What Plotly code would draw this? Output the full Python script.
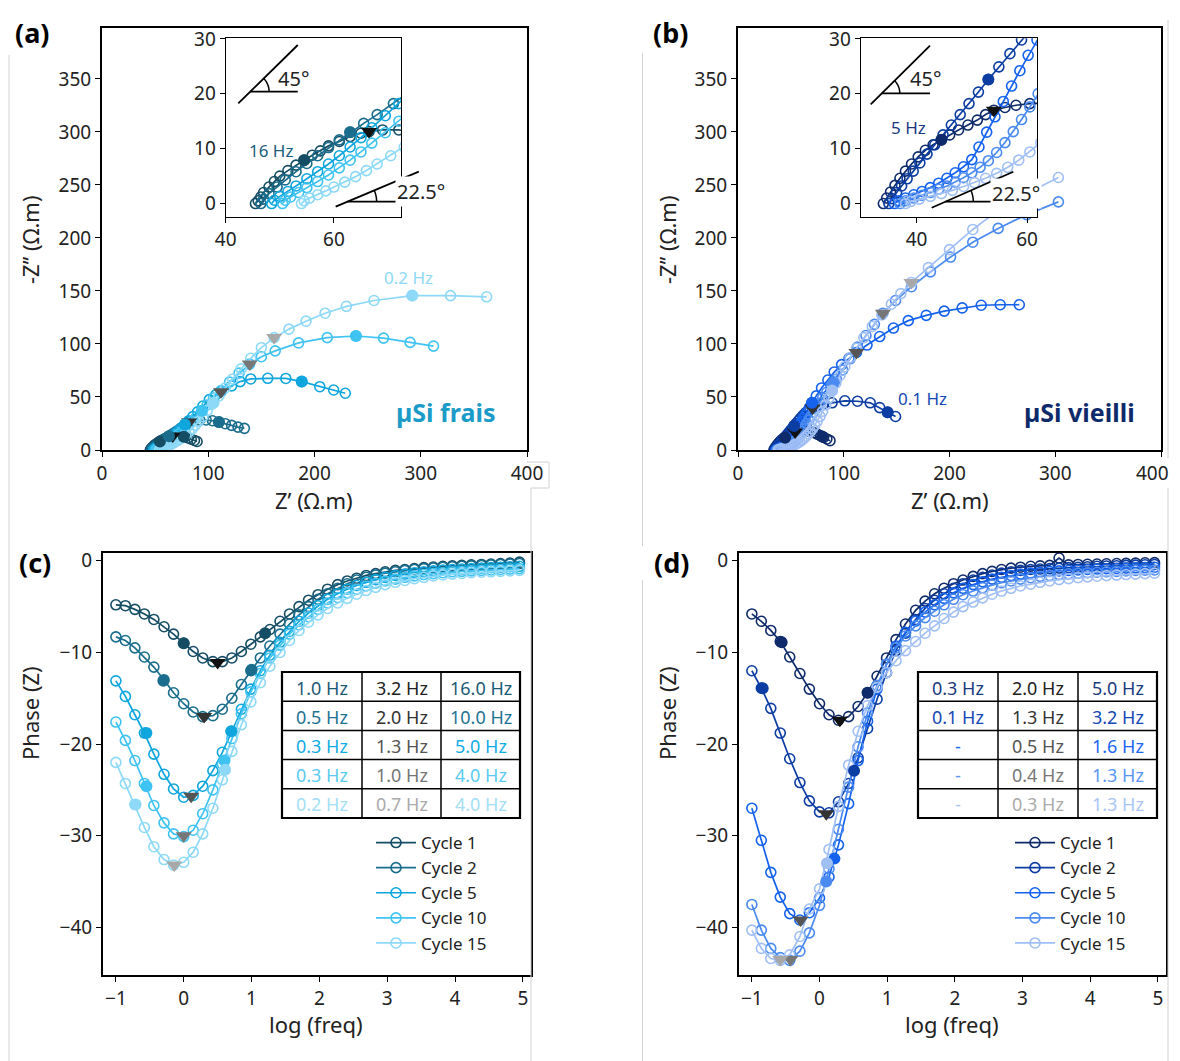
import math
import plotly.graph_objects as go

W, H = 1180, 1061
OFF = 8  # the page body adds an 8 px margin around the figure
FONT = 'Noto Sans'

# ---------------- data ----------------
cycles = ['Cycle 1', 'Cycle 2', 'Cycle 5', 'Cycle 10', 'Cycle 15']
colors_frais = ['#154D65', '#1A6D8D', '#0FA6DE', '#3FC3F2', '#8DD9F7']
colors_vieilli = ['#0F2B6B', '#0C3DA3', '#1462EE', '#4B8BF1', '#A0BFF5']
tri_grays = ['#111111', '#333333', '#555555', '#777777', '#A8A8A8']

# Nyquist, µSi frais (panel a)
zre_frais_c1 = [45.5, 46, 46.5, 47, 48, 49, 50, 51.5, 53, 54.5, 56, 57.5, 59, 61, 63, 65, 66.5, 69, 72, 75, 78, 81, 84, 87, 89.5]
zim_frais_c1 = [0, 0.5, 1.2, 2, 3, 4, 5, 6, 7, 7.9, 8.8, 9.6, 10.5, 11.3, 12.2, 12.8, 13.1, 13.4, 13.4, 13, 12.3, 11.3, 10.2, 9, 8]
zre_frais_c2 = [46.5, 47, 48, 49.5, 51, 53, 55, 57, 59, 61, 63, 65.5, 68, 71, 74, 77.5, 82, 86, 92, 98, 104, 110, 116, 122, 128, 134]
zim_frais_c2 = [0, 0.8, 1.8, 3, 4.3, 5.8, 7.3, 8.7, 10.2, 11.6, 13, 14.6, 16.2, 18.2, 20.4, 22.8, 26.5, 27.6, 28.3, 28.3, 27.6, 26.3, 24.8, 23.2, 21.6, 20.4]
zre_frais_c5 = [48.5, 49, 50, 51.5, 53, 55, 57, 59, 61, 63, 65, 67, 69.5, 72, 75, 78, 81.5, 85.5, 90, 95, 101, 107, 112, 122, 130, 140, 156, 173, 188, 205, 218, 229]
zim_frais_c5 = [0, 0.6, 1.3, 2.2, 3.2, 4.5, 5.8, 7.2, 8.7, 10.3, 12, 13.8, 16, 18.2, 21, 24, 27.5, 31.5, 36, 41.5, 47.5, 52, 55, 60.5, 64.5, 67, 67.6, 67.5, 64.5, 59.7, 56.6, 53.5]
zre_frais_c10 = [50.5, 51, 52, 53.5, 55, 57, 59, 61, 63, 65, 67, 69.5, 72, 75, 78, 81.5, 85, 89, 94, 99, 105, 112, 120, 129, 139, 150, 163, 185, 212, 239, 265, 290, 312]
zim_frais_c10 = [0, 0.6, 1.2, 2, 2.9, 4, 5.2, 6.5, 7.9, 9.4, 11, 12.9, 15, 17.5, 20.3, 23.5, 27, 31.5, 37, 42.5, 49, 56, 64, 72.5, 81, 88, 93.5, 101, 106, 107.5, 105.5, 101.5, 98]
zre_frais_c15 = [54, 54.5, 55.5, 57, 58.5, 60, 62, 64, 66, 68, 70.5, 73, 76, 79, 82, 85, 88, 91, 95, 99, 104, 110, 116, 123, 131, 140, 150, 162, 176, 192, 210, 230, 256, 292, 328, 362]
zim_frais_c15 = [0, 0.5, 1, 1.6, 2.3, 3, 3.9, 4.9, 6, 7.2, 8.7, 10.3, 12.3, 14.6, 17.2, 20.2, 23.5, 27, 31.5, 37, 43.5, 51, 58.5, 67, 76.5, 86.5, 96.5, 106, 114, 121.5, 129, 135.5, 141, 145.6, 145.6, 144.5]

# Nyquist, µSi vieilli (panel b)
zre_vieilli_c1 = [34, 34.6, 35.3, 36.1, 37, 38, 39.1, 40.3, 41.6, 43, 44.5, 46, 47.6, 49.3, 51, 52.5, 54, 56, 58, 60.5, 63, 66, 69, 72, 75, 78, 81, 84, 87]
zim_vieilli_c1 = [0, 1, 2.1, 3.3, 4.6, 5.9, 7.2, 8.5, 9.7, 10.7, 11.6, 12.5, 13.4, 14.3, 15.2, 16.2, 17, 17.5, 17.9, 18.2, 18.3, 18, 17.3, 16.3, 15, 13.5, 12, 10.4, 8.8]
zre_vieilli_c2 = [35, 35.6, 36.4, 37.3, 38.3, 39.4, 40.6, 41.9, 43.3, 44.8, 46.3, 47.9, 49.5, 51.2, 53, 54.9, 56.9, 59, 61.3, 63.8, 66.8, 70.5, 75, 81, 89, 101, 113, 125, 134, 141.5, 149]
zim_vieilli_c2 = [0, 0.9, 2, 3.2, 4.5, 5.9, 7.4, 9, 10.7, 12.5, 14.3, 16.2, 18.2, 20.3, 22.6, 24.9, 27.3, 29.8, 32.4, 35.1, 37.8, 39.7, 42, 43.8, 44.5, 46.4, 46, 44.5, 40, 35.5, 31.6]
zre_vieilli_c5 = [36, 36.8, 38, 39.5, 41, 42.5, 44, 45.5, 47, 48.5, 50, 51.3, 52.7, 54.2, 55.7, 57.2, 58.7, 60.2, 61.8, 63.5, 65.5, 67.7, 70, 74, 79, 85, 91, 98, 105, 112, 122, 134, 147, 161, 178, 195, 212, 230, 248, 266]
zim_vieilli_c5 = [0, 0.5, 1, 1.6, 2.2, 2.9, 3.7, 4.6, 5.6, 6.7, 8, 10.3, 13, 15.8, 18.6, 21.4, 24.2, 27, 29.8, 32.8, 36.3, 40.3, 44.6, 51, 58.5, 66, 73.5, 80.5, 86.5, 92, 99, 107, 115, 122, 127, 131, 134, 136.5, 137, 137]
zre_vieilli_c10 = [37, 38, 39.5, 41, 42.5, 44, 45.5, 47, 48.5, 50, 51.5, 53, 54.5, 56, 57.5, 59, 60.5, 62, 63.5, 65, 67, 69, 71.5, 74, 77, 80, 84, 88, 93, 99, 106, 113, 121, 129, 137, 149, 164, 182, 201, 222, 246, 273, 303]
zim_vieilli_c10 = [0, 0.5, 1, 1.5, 2, 2.6, 3.2, 3.9, 4.7, 5.6, 6.6, 7.8, 9.3, 11.1, 13.1, 15.3, 17.6, 20, 22.5, 25, 28.3, 31.6, 35.6, 39.6, 44.3, 49, 54.5, 60, 67, 75.5, 86, 97, 108, 118.5, 129, 141, 154, 168, 182, 196, 209, 222, 234]
zre_vieilli_c15 = [38, 39, 40.5, 42.5, 44.5, 46.5, 48.5, 50.5, 52.5, 54.5, 56.5, 58.5, 60.5, 62.5, 64.5, 66.5, 68.5, 70.5, 72.5, 75, 77.5, 80, 83, 86, 89, 92.5, 96.5, 101, 106, 112, 119, 127, 136, 145, 154, 164, 180, 200, 222, 246, 273, 303]
zim_vieilli_c15 = [0, 0.4, 0.8, 1.3, 1.8, 2.4, 3.1, 3.8, 4.6, 5.5, 6.6, 7.9, 9.4, 11.1, 13, 15.1, 17.5, 20.2, 23.2, 27.2, 31.7, 36.5, 42.5, 49, 56, 63, 70.5, 78.5, 87, 96, 106, 116.5, 127.5, 137.5, 147.5, 158, 172, 189, 208, 226, 242, 257]

# marked frequencies on the Nyquist plots (table columns: low freq / phase minimum / high freq)
nyq_frais_lo_x = [77, 110, 188, 239, 292]
nyq_frais_lo_y = [12.5, 26.3, 64.5, 107.5, 145.6]
nyq_frais_min_x = [66.5, 82, 112, 139, 162]
nyq_frais_min_y = [13.1, 26.5, 55, 81, 106]
nyq_frais_hi_x = [54.5, 63, 78, 94, 105]
nyq_frais_hi_y = [7.9, 13, 24, 37, 44.5]

nyq_vieilli_lo_x = [79.5, 141.5, None, None, None]
nyq_vieilli_lo_y = [12.8, 35.5, None, None, None]
nyq_vieilli_min_x = [54, 70.5, 112, 137, 164]
nyq_vieilli_min_y = [17, 39.7, 92, 129, 158]
nyq_vieilli_hi_x = [44.5, 53, 70, 90.5, 89]
nyq_vieilli_hi_y = [11.6, 22.6, 44.6, 63.5, 56]

# Bode phase
log_freq = [-1.0, -0.86, -0.72, -0.58, -0.44, -0.29, -0.15, 0.0, 0.14, 0.28, 0.43,
            0.57, 0.71, 0.85, 0.99, 1.13, 1.27, 1.42, 1.56, 1.70, 1.84, 1.98,
            2.12, 2.27, 2.41, 2.55, 2.69, 2.83, 2.97, 3.12, 3.26, 3.40, 3.54,
            3.68, 3.82, 3.96, 4.10, 4.24, 4.39, 4.53, 4.67, 4.81, 4.95]

phase_frais_c1 = [-4.8, -4.9, -5.3, -5.8, -6.4, -7.2, -8.0, -9.0, -9.9, -10.6, -11.0,
                  -11.0, -10.6, -9.9, -9.1, -8.3, -7.5, -6.6, -5.8, -5.0, -4.3, -3.7,
                  -3.1, -2.6, -2.2, -1.9, -1.6, -1.4, -1.2, -1.05, -0.95, -0.85, -0.75,
                  -0.68, -0.6, -0.55, -0.5, -0.45, -0.4, -0.35, -0.3, -0.25, -0.15]
phase_frais_c2 = [-8.3, -8.7, -9.5, -10.5, -11.6, -13.0, -14.4, -15.6, -16.5, -17.0, -16.9,
                  -16.2, -15.0, -13.5, -12.0, -10.6, -9.3, -8.0, -6.9, -5.9, -5.0, -4.2,
                  -3.6, -3.0, -2.5, -2.1, -1.8, -1.55, -1.35, -1.2, -1.05, -0.95, -0.85,
                  -0.78, -0.7, -0.65, -0.6, -0.55, -0.5, -0.45, -0.4, -0.35, -0.3]
phase_frais_c5 = [-13.1, -14.8, -16.8, -18.8, -21.1, -23.3, -24.9, -25.8, -25.6, -24.6, -22.9,
                  -20.9, -18.6, -16.2, -14.0, -12.0, -10.3, -8.9, -7.7, -6.6, -5.7, -4.9,
                  -4.2, -3.6, -3.1, -2.7, -2.35, -2.05, -1.8, -1.6, -1.45, -1.3, -1.2,
                  -1.1, -1.0, -0.95, -0.9, -0.85, -0.8, -0.75, -0.7, -0.65, -0.6]
phase_frais_c10 = [-17.6, -19.6, -21.8, -24.3, -26.7, -28.6, -29.8, -30.1, -29.4, -27.6, -25.0,
                   -22.2, -19.4, -16.7, -14.3, -12.3, -10.6, -9.2, -8.0, -7.0, -6.1, -5.3,
                   -4.6, -4.0, -3.5, -3.1, -2.75, -2.45, -2.2, -2.0, -1.8, -1.65, -1.5,
                   -1.4, -1.3, -1.2, -1.15, -1.1, -1.05, -1.0, -0.95, -0.9, -0.85]
phase_frais_c15 = [-22.0, -24.3, -26.6, -29.1, -31.2, -32.6, -33.2, -32.9, -31.8, -29.8, -27.0,
                   -23.9, -20.8, -17.9, -15.4, -13.3, -11.5, -10.0, -8.7, -7.6, -6.7, -5.9,
                   -5.2, -4.6, -4.1, -3.65, -3.25, -2.9, -2.6, -2.35, -2.15, -1.95, -1.8,
                   -1.65, -1.55, -1.45, -1.38, -1.3, -1.25, -1.2, -1.15, -1.1, -1.05]

phase_vieilli_c1 = [-5.8, -6.6, -7.6, -8.8, -10.5, -12.3, -14.0, -15.6, -16.8, -17.4, -17.0,
                    -15.9, -14.4, -12.6, -10.6, -8.6, -6.9, -5.4, -4.4, -3.6, -3.0, -2.5,
                    -2.1, -1.7, -1.4, -1.15, -0.95, -0.8, -0.7, -0.6, -0.55, -0.5, 0.3,
                    -0.45, -0.4, -0.38, -0.35, -0.33, -0.3, -0.28, -0.25, -0.22, -0.2]
phase_vieilli_c2 = [-12.0, -13.9, -16.1, -18.8, -21.6, -24.2, -26.2, -27.4, -27.5, -26.3, -24.3,
                    -21.5, -18.3, -15.1, -12.2, -9.8, -7.9, -6.4, -5.2, -4.3, -3.6, -3.0,
                    -2.5, -2.1, -1.8, -1.55, -1.35, -1.2, -1.05, -0.95, -0.9, -0.85, -0.8,
                    -0.75, -0.7, -0.65, -0.6, -0.57, -0.54, -0.5, -0.47, -0.44, -0.4]
phase_vieilli_c5 = [-27.0, -30.5, -34.0, -36.7, -38.5, -39.2, -38.4, -36.8, -34.5, -31.0, -26.5,
                    -21.8, -17.5, -14.0, -11.3, -9.3, -7.8, -6.6, -5.6, -4.8, -4.1, -3.5,
                    -3.0, -2.6, -2.3, -2.0, -1.8, -1.6, -1.45, -1.35, -1.25, -1.15, -1.1,
                    -1.05, -1.0, -0.95, -0.9, -0.87, -0.84, -0.8, -0.77, -0.74, -0.7]
phase_vieilli_c10 = [-37.5, -40.3, -42.3, -43.3, -43.6, -42.6, -40.6, -37.6, -33.6, -29.3, -24.7,
                     -20.3, -16.6, -13.6, -11.3, -9.5, -8.2, -7.1, -6.2, -5.5, -4.8, -4.2,
                     -3.7, -3.3, -2.95, -2.65, -2.4, -2.2, -2.0, -1.85, -1.7, -1.6, -1.5,
                     -1.42, -1.35, -1.3, -1.25, -1.2, -1.15, -1.1, -1.06, -1.02, -1.0]
phase_vieilli_c15 = [-40.3, -42.3, -43.4, -43.6, -43.0, -41.0, -38.0, -35.8, -31.5, -26.8, -22.3,
                     -18.6, -15.8, -13.8, -12.2, -10.9, -9.8, -8.8, -7.9, -7.1, -6.3, -5.6,
                     -5.0, -4.5, -4.05, -3.65, -3.3, -3.0, -2.75, -2.55, -2.35, -2.2, -2.05,
                     -1.95, -1.85, -1.75, -1.68, -1.62, -1.56, -1.5, -1.45, -1.4, -1.35]

ph_frais_lo_x = [0.0, -0.3, -0.55, -0.55, -0.71]
ph_frais_lo_y = [-9.0, -13.1, -18.8, -24.6, -26.6]
ph_frais_min_x = [0.5, 0.3, 0.11, 0.0, -0.14]
ph_frais_min_y = [-11.1, -17.0, -25.7, -30.0, -33.2]
ph_frais_hi_x = [1.2, 1.0, 0.7, 0.6, 0.61]
ph_frais_hi_y = [-7.9, -11.9, -18.6, -21.8, -22.8]

ph_vieilli_lo_x = [-0.56, -0.84, None, None, None]
ph_vieilli_lo_y = [-8.9, -13.9, None, None, None]
ph_vieilli_min_x = [0.3, 0.1, -0.28, -0.43, -0.58]
ph_vieilli_min_y = [-17.4, -27.6, -39.2, -43.5, -43.5]
ph_vieilli_hi_x = [0.71, 0.51, 0.22, 0.1, 0.11]
ph_vieilli_hi_y = [-14.4, -22.9, -32.5, -35.0, -33.0]

# tables of marked frequencies
table_frais = [['1.0 Hz', '3.2 Hz', '16.0 Hz'],
               ['0.5 Hz', '2.0 Hz', '10.0 Hz'],
               ['0.3 Hz', '1.3 Hz', '5.0 Hz'],
               ['0.3 Hz', '1.0 Hz', '4.0 Hz'],
               ['0.2 Hz', '0.7 Hz', '4.0 Hz']]
table_vieilli = [['0.3 Hz', '2.0 Hz', '5.0 Hz'],
                 ['0.1 Hz', '1.3 Hz', '3.2 Hz'],
                 ['-', '0.5 Hz', '1.6 Hz'],
                 ['-', '0.4 Hz', '1.3 Hz'],
                 ['-', '0.3 Hz', '1.3 Hz']]
table_text_frais = ['#1B5A75', '#1E7392', '#12ADE6', '#5BCBF2', '#A3E0F7']
table_text_vieilli = ['#1A3A80', '#1448B4', '#1A66F0', '#5A96F2', '#A9C6F6']
table_text_gray = ['#222222', '#333333', '#555555', '#777777', '#AAAAAA']

nyq_frais = [(zre_frais_c1, zim_frais_c1), (zre_frais_c2, zim_frais_c2), (zre_frais_c5, zim_frais_c5),
             (zre_frais_c10, zim_frais_c10), (zre_frais_c15, zim_frais_c15)]
nyq_vieilli = [(zre_vieilli_c1, zim_vieilli_c1), (zre_vieilli_c2, zim_vieilli_c2), (zre_vieilli_c5, zim_vieilli_c5),
               (zre_vieilli_c10, zim_vieilli_c10), (zre_vieilli_c15, zim_vieilli_c15)]
phase_frais = [phase_frais_c1, phase_frais_c2, phase_frais_c5, phase_frais_c10, phase_frais_c15]
phase_vieilli = [phase_vieilli_c1, phase_vieilli_c2, phase_vieilli_c5, phase_vieilli_c10, phase_vieilli_c15]

# inset ranges
inset_a_x = [40, 72.4]
inset_b_x = [29.9, 61.8]
inset_y = [-2.4, 30.1]


# ---------------- helpers ----------------
def px(v):
    return (v - OFF) / W


def py(v):
    return 1 - (v - OFF) / H


fig = go.Figure()


def series(x, y, color, xa, ya, name=None, legend=None, showlegend=False, size=10):
    fig.add_trace(go.Scatter(
        x=x, y=y, mode='lines+markers', name=name,
        line=dict(color=color, width=1.7),
        marker=dict(symbol='circle-open', size=size, color=color, line=dict(width=1.6)),
        xaxis=xa, yaxis=ya, showlegend=showlegend, legend=legend, hoverinfo='skip'))


def marks(lo_x, lo_y, min_x, min_y, hi_x, hi_y, colors, xa, ya):
    for i in range(5):
        fx = [v for v in (lo_x[i], hi_x[i]) if v is not None]
        fy = [v for v in (lo_y[i], hi_y[i]) if v is not None]
        fig.add_trace(go.Scatter(x=fx, y=fy, mode='markers', xaxis=xa, yaxis=ya,
                                 marker=dict(symbol='circle', size=12, color=colors[i]),
                                 showlegend=False, hoverinfo='skip'))
        fig.add_trace(go.Scatter(x=[min_x[i]], y=[min_y[i]], mode='markers', xaxis=xa, yaxis=ya,
                                 marker=dict(symbol='triangle-down', size=14, color=tri_grays[i]),
                                 showlegend=False, hoverinfo='skip'))


# panel a (x/y) and b (x2/y2)
for i in range(5):
    series(nyq_frais[i][0], nyq_frais[i][1], colors_frais[i], 'x', 'y')
    series(nyq_vieilli[i][0], nyq_vieilli[i][1], colors_vieilli[i], 'x2', 'y2')
marks(nyq_frais_lo_x, nyq_frais_lo_y, nyq_frais_min_x, nyq_frais_min_y, nyq_frais_hi_x, nyq_frais_hi_y,
      colors_frais, 'x', 'y')
marks(nyq_vieilli_lo_x, nyq_vieilli_lo_y, nyq_vieilli_min_x, nyq_vieilli_min_y, nyq_vieilli_hi_x,
      nyq_vieilli_hi_y, colors_vieilli, 'x2', 'y2')

# panel c (x3/y3) and d (x4/y4)
for i in range(5):
    series(log_freq, phase_frais[i], colors_frais[i], 'x3', 'y3', name=cycles[i], legend='legend',
           showlegend=True)
    series(log_freq, phase_vieilli[i], colors_vieilli[i], 'x4', 'y4', name=cycles[i], legend='legend2',
           showlegend=True)
marks(ph_frais_lo_x, ph_frais_lo_y, ph_frais_min_x, ph_frais_min_y, ph_frais_hi_x, ph_frais_hi_y,
      colors_frais, 'x3', 'y3')
marks(ph_vieilli_lo_x, ph_vieilli_lo_y, ph_vieilli_min_x, ph_vieilli_min_y, ph_vieilli_hi_x, ph_vieilli_hi_y,
      colors_vieilli, 'x4', 'y4')

# insets (x5/y5 and x6/y6) with white background
for xa, ya, xr in (('x5', 'y5', inset_a_x), ('x6', 'y6', inset_b_x)):
    fig.add_trace(go.Scatter(x=[xr[0], xr[1], xr[1], xr[0], xr[0]],
                             y=[inset_y[0], inset_y[0], inset_y[1], inset_y[1], inset_y[0]],
                             mode='lines', fill='toself', fillcolor='white', line=dict(width=0),
                             xaxis=xa, yaxis=ya, showlegend=False, hoverinfo='skip'))
for i in range(5):
    series(nyq_frais[i][0], nyq_frais[i][1], colors_frais[i], 'x5', 'y5')
    series(nyq_vieilli[i][0], nyq_vieilli[i][1], colors_vieilli[i], 'x6', 'y6')
marks(nyq_frais_lo_x, nyq_frais_lo_y, nyq_frais_min_x, nyq_frais_min_y, nyq_frais_hi_x, nyq_frais_hi_y,
      colors_frais, 'x5', 'y5')
marks(nyq_vieilli_lo_x, nyq_vieilli_lo_y, nyq_vieilli_min_x, nyq_vieilli_min_y, nyq_vieilli_hi_x,
      nyq_vieilli_hi_y, colors_vieilli, 'x6', 'y6')


def ax(domain, rng, tickvals, anchor, lw=2, ticktext=None):
    return dict(domain=domain, range=rng, tickvals=tickvals, ticktext=ticktext, anchor=anchor,
                showline=True, linecolor='black', linewidth=lw, mirror=True,
                ticks='outside', ticklen=5, tickwidth=1.2, tickcolor='black',
                showgrid=False, zeroline=False, fixedrange=True, automargin=False,
                tickfont=dict(size=19, color='#222222', family=FONT))


nyq_ticks = [0, 100, 200, 300, 400]
phase_x = [-1.19, 5.12]
phase_y = [-45.2, 0.85]
fig.update_layout(
    xaxis=ax([px(102), px(527)], [0, 400], nyq_ticks, 'y'),
    yaxis=ax([py(450), py(28)], [0, 398], [0, 50, 100, 150, 200, 250, 300, 350], 'x'),
    # the last label of panel b sits at the page edge: drawn separately, a little inward
    xaxis2=ax([px(738), px(1161)], [0, 400], nyq_ticks, 'y2',
              ticktext=[str(v) for v in nyq_ticks[:-1]] + ['']),
    yaxis2=ax([py(450), py(28)], [0, 398], [0, 50, 100, 150, 200, 250, 300, 350], 'x2'),
    xaxis3=ax([px(103), px(531)], phase_x, [-1, 0, 1, 2, 3, 4, 5], 'y3'),
    yaxis3=ax([py(975), py(553)], phase_y, [-40, -30, -20, -10, 0], 'x3'),
    xaxis4=ax([px(739), px(1166)], phase_x, [-1, 0, 1, 2, 3, 4, 5], 'y4'),
    yaxis4=ax([py(975), py(553)], phase_y, [-40, -30, -20, -10, 0], 'x4'),
    xaxis5=ax([px(225.7), px(401)], inset_a_x, [40, 60], 'y5', lw=1.2),
    yaxis5=ax([py(216.7), py(38.3)], inset_y, [0, 10, 20, 30], 'x5', lw=1.2),
    xaxis6=ax([px(860.7), px(1037)], inset_b_x, [40, 60], 'y6', lw=1.2),
    yaxis6=ax([py(216.7), py(38.3)], inset_y, [0, 10, 20, 30], 'x6', lw=1.2),
)

legend_style = dict(yanchor='top', xanchor='left', bgcolor='rgba(0,0,0,0)', tracegroupgap=0,
                    itemwidth=40, font=dict(size=17, color='#222222', family=FONT))
fig.update_layout(
    legend=dict(x=px(371), y=py(825), **legend_style),
    legend2=dict(x=px(1010), y=py(825), **legend_style),
)

annotations = []
shapes = []


def text(x, y, s, size=19, color='#222222', xref='paper', yref='paper', bold=False, angle=0, bg=None,
         xanchor='center'):
    annotations.append(dict(x=x, y=y, xref=xref, yref=yref, text=('<b>%s</b>' % s) if bold else s,
                            showarrow=False, textangle=angle, bgcolor=bg,
                            font=dict(size=size, color=color, family=FONT),
                            xanchor=xanchor, yanchor='middle'))


def seg(x0, y0, x1, y1, w=1.8, color='black'):
    shapes.append(dict(type='line', xref='paper', yref='paper', x0=px(x0), y0=py(y0), x1=px(x1), y1=py(y1),
                       line=dict(color=color, width=w)))


# faint panel borders of the original composite
for x0, y0, x1, y1 in ((9, 55, 9, 1061), (531, 488, 531, 1061), (527, 462, 549, 462), (549, 462, 549, 488),
                       (531, 488, 549, 488), (642.5, 53, 642.5, 546), (642.5, 580, 642.5, 1061),
                       (1168, 20, 1168, 458), (1168, 488, 1168, 1061)):
    seg(x0, y0, x1, y1, w=1, color='#D2D2D2')

# last tick label of panel b
text(px(1171), py(473), str(nyq_ticks[-1]), size=19, xanchor='right')

# panel letters and axis titles
for lbl, x, y in (('(a)', 32, 33), ('(b)', 670, 33), ('(c)', 35, 562), ('(d)', 671, 562)):
    text(px(x), py(y), lbl, size=27, color='black', bold=True)
for x in (30, 667):
    text(px(x), py(240), '-Z’’ (Ω.m)', size=22, angle=-90)
    text(px(x), py(713), 'Phase (Z)', size=22, angle=-90)
for x in (314, 950):
    text(px(x), py(500), 'Z’ (Ω.m)', size=22)
    text(px(x + 2), py(1024), 'log (freq)', size=22)

# labels inside the Nyquist plots
text(288.7, 163, '0.2 Hz', size=17, color=colors_frais[4], xref='x', yref='y')
text(323.6, 36, 'µSi frais', size=25, color='#1B9BC8', xref='x', yref='y', bold=True)
text(174.6, 48.3, '0.1 Hz', size=17, color='#1448B4', xref='x2', yref='y2')
text(322.5, 36, 'µSi vieilli', size=25, color='#0F2A6A', xref='x2', yref='y2', bold=True)
text(48.4, 9.7, '16 Hz', size=17, color='#1B5F7C', xref='x5', yref='y5')
text(38.6, 13.9, '5 Hz', size=17, color='#1A3A80', xref='x6', yref='y6')


# angle glyphs in the insets (pixel geometry of the figure)
def arc(cx, cy, r, deg):
    pts = []
    for k in range(13):
        t = math.radians(deg * k / 12)
        pts.append((px(cx + r * math.cos(t)), py(cy - r * math.sin(t))))
    path = 'M ' + ' L '.join('%f,%f' % p for p in pts)
    shapes.append(dict(type='path', xref='paper', yref='paper', path=path, line=dict(color='black', width=1.5)))


# inset a
seg(238.3, 103.3, 297.8, 45)
seg(250.1, 91.7, 297.8, 91.7)
arc(250.1, 91.7, 19, 45)
text(px(293), py(78), '45°', size=20)
seg(335.7, 206.7, 418.8, 171.7)
seg(347.6, 201.7, 418.8, 201.7)
arc(347.6, 201.7, 29, 22.5)
# inset b
seg(870.7, 104.3, 930, 45.7)
seg(881.8, 93.3, 930, 93.3)
arc(881.8, 93.3, 18, 45)
text(px(925), py(78), '45°', size=20)
seg(931.7, 207.7, 1013.3, 171.7)
seg(945.3, 201.7, 1013.3, 201.7)
arc(945.3, 201.7, 28, 22.5)
text(px(421), py(191), '22.5°', size=20, bg='white')
text(px(1016), py(193), '22.5°', size=20, bg='white')


# frequency tables
def table(rows, col_colors, x_edges, y_edges):
    x0, x1 = x_edges[0], x_edges[-1]
    y0, y1 = y_edges[0], y_edges[-1]
    shapes.append(dict(type='rect', xref='paper', yref='paper', x0=px(x0), x1=px(x1), y0=py(y0), y1=py(y1),
                       line=dict(color='black', width=2.2), fillcolor='white', layer='above'))
    for xe in x_edges[1:-1]:
        seg(xe, y0, xe, y1, w=1.5)
    for ye in y_edges[1:-1]:
        seg(x0, ye, x1, ye, w=1.5)
    for r, row in enumerate(rows):
        for c, val in enumerate(row):
            col = table_text_gray[r] if c == 1 else col_colors[r]
            text(px((x_edges[c] + x_edges[c + 1]) / 2), py((y_edges[r] + y_edges[r + 1]) / 2 + 1), val,
                 size=18, color=col)


row_edges = [672, 701.2, 730.4, 759.6, 788.8, 818]
table(table_frais, table_text_frais, [282, 362, 441, 520], row_edges)
table(table_vieilli, table_text_vieilli, [918, 998, 1078, 1157], row_edges)

fig.update_layout(
    width=W, height=H, margin=dict(l=0, r=0, t=0, b=0, autoexpand=False),
    paper_bgcolor='white', plot_bgcolor='white',
    annotations=annotations, shapes=shapes,
    font=dict(family=FONT, color='#222222'),
)

fig.write_html('out.html')
